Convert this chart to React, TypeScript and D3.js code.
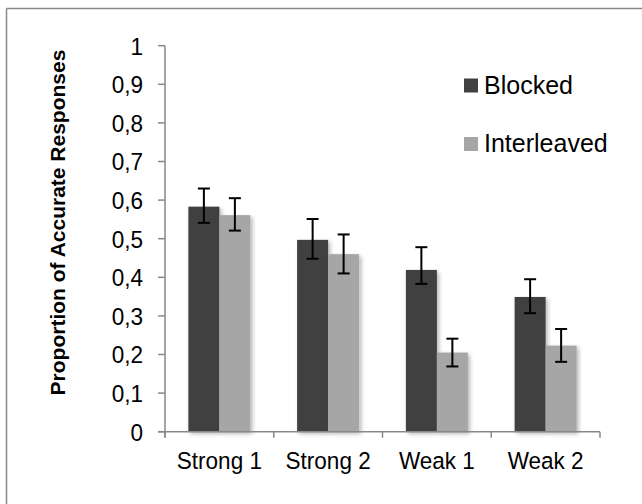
import React from "react";
import * as d3 from "d3";

const categories = ["Strong 1", "Strong 2", "Weak 1", "Weak 2"];
const seriesNames = ["Blocked", "Interleaved"];
const blocked = [0.583, 0.497, 0.419, 0.349];
const interleaved = [0.561, 0.46, 0.205, 0.223];
const blockedHigh = [0.63, 0.551, 0.478, 0.395];
const blockedLow = [0.541, 0.448, 0.383, 0.307];
const interleavedHigh = [0.605, 0.511, 0.241, 0.266];
const interleavedLow = [0.521, 0.41, 0.169, 0.181];
const yTicks = [0, 0.1, 0.2, 0.3, 0.4, 0.5, 0.6, 0.7, 0.8, 0.9, 1];
const colors = ["#404040", "#a6a6a6"];

const W = 642;
const H = 504;
const left = 165;
const right = 600;
const top = 45.7;
const bottom = 431.7;
const font = "'Liberation Sans', Arial, sans-serif";
const SX = 0.92;

export default function App() {
  const x = d3.scaleBand<string>().domain(categories).range([left, right]).paddingInner(0).paddingOuter(0);
  const inner = d3.scaleBand<string>().domain(seriesNames).range([0, 62]).padding(0);
  const y = d3.scaleLinear().domain([0, 1]).range([bottom, top]);
  const values = [blocked, interleaved];
  const highs = [blockedHigh, interleavedHigh];
  const lows = [blockedLow, interleavedLow];
  const fmt = (v: number) => (v === 0 || v === 1 ? String(v) : d3.format(".1f")(v).replace(".", ","));
  const groupOffset = (x.bandwidth() - 62) / 2;

  return (
    <svg width={W} height={H} style={{ position: "absolute", left: 0, top: 0, background: "#fff" }}>
      <defs>
        <filter id="shadow" x="-20%" y="-20%" width="140%" height="140%">
          <feGaussianBlur in="SourceAlpha" stdDeviation="2" />
          <feOffset dx="1.5" dy="1.5" result="b" />
          <feComponentTransfer>
            <feFuncA type="linear" slope="0.3" />
          </feComponentTransfer>
          <feMerge>
            <feMergeNode />
            <feMergeNode in="SourceGraphic" />
          </feMerge>
        </filter>
      </defs>
      <rect x={0} y={0} width={W} height={H} fill="#fff" />
      <line x1={6.5} y1={8.5} x2={W} y2={8.5} stroke="#888" strokeWidth={1.5} />
      <line x1={6.5} y1={8.5} x2={6.5} y2={H} stroke="#888" strokeWidth={1.5} />

      {/* bars */}
      {values.map((vals, si) =>
        categories.map((c, ci) => {
          const bx = (x(c) as number) + groupOffset + (inner(seriesNames[si]) as number);
          return (
            <rect
              key={`b-${si}-${ci}`}
              x={bx}
              y={y(vals[ci])}
              width={inner.bandwidth()}
              height={y(0) - y(vals[ci])}
              fill={colors[si]}
              filter="url(#shadow)"
            />
          );
        })
      )}

      {/* axes */}
      <line x1={left} y1={top} x2={left} y2={bottom + 6} stroke="#888" strokeWidth={1.5} />
      <line x1={left - 7} y1={bottom} x2={right} y2={bottom} stroke="#888" strokeWidth={1.5} />
      {yTicks.map((t) => (
        <g key={`yt-${t}`}>
          <line x1={left - 7} y1={y(t)} x2={left} y2={y(t)} stroke="#888" strokeWidth={1.5} />
          <text
            transform={`translate(${left - 22}, ${y(t)}) scale(${SX}, 1)`}
            dy="0.36em"
            textAnchor="end"
            fontFamily={font}
            fontSize={24.5}
            fill="#000"
          >
            {fmt(t)}
          </text>
        </g>
      ))}
      {[...categories.map((c) => x(c) as number), right].map((px, i) => (
        <line key={`xt-${i}`} x1={px} y1={bottom} x2={px} y2={bottom + 6} stroke="#888" strokeWidth={1.5} />
      ))}
      {categories.map((c) => (
        <text
          key={`xl-${c}`}
          transform={`translate(${(x(c) as number) + x.bandwidth() / 2}, 468.5) scale(${SX}, 1)`}
          textAnchor="middle"
          fontFamily={font}
          fontSize={24.5}
          fill="#000"
        >
          {c}
        </text>
      ))}

      {/* error bars */}
      {values.map((vals, si) =>
        categories.map((c, ci) => {
          const cx = (x(c) as number) + groupOffset + (inner(seriesNames[si]) as number) + inner.bandwidth() / 2;
          const hi = y(highs[si][ci]);
          const lo = y(lows[si][ci]);
          return (
            <g key={`e-${si}-${ci}`} stroke="#000" strokeWidth={2}>
              <line x1={cx} y1={hi} x2={cx} y2={lo} />
              <line x1={cx - 6} y1={hi} x2={cx + 6} y2={hi} />
              <line x1={cx - 6} y1={lo} x2={cx + 6} y2={lo} />
            </g>
          );
        })
      )}

      {/* y title */}
      <text
        transform={`translate(65, 222.5) rotate(-90)`}
        textAnchor="middle"
        fontFamily={font}
        fontWeight="bold"
        fontSize={21}
        fill="#000"
      >
        Proportion of Accurate Responses
      </text>

      {/* legend */}
      {seriesNames.map((s, i) => (
        <g key={`lg-${s}`}>
          <rect x={464} y={78.5 + i * 58.5} width={14} height={14} fill={colors[i]} />
          <text x={484} y={93.5 + i * 58.8} fontFamily={font} fontSize={25} fill="#000">
            {s}
          </text>
        </g>
      ))}
    </svg>
  );
}
